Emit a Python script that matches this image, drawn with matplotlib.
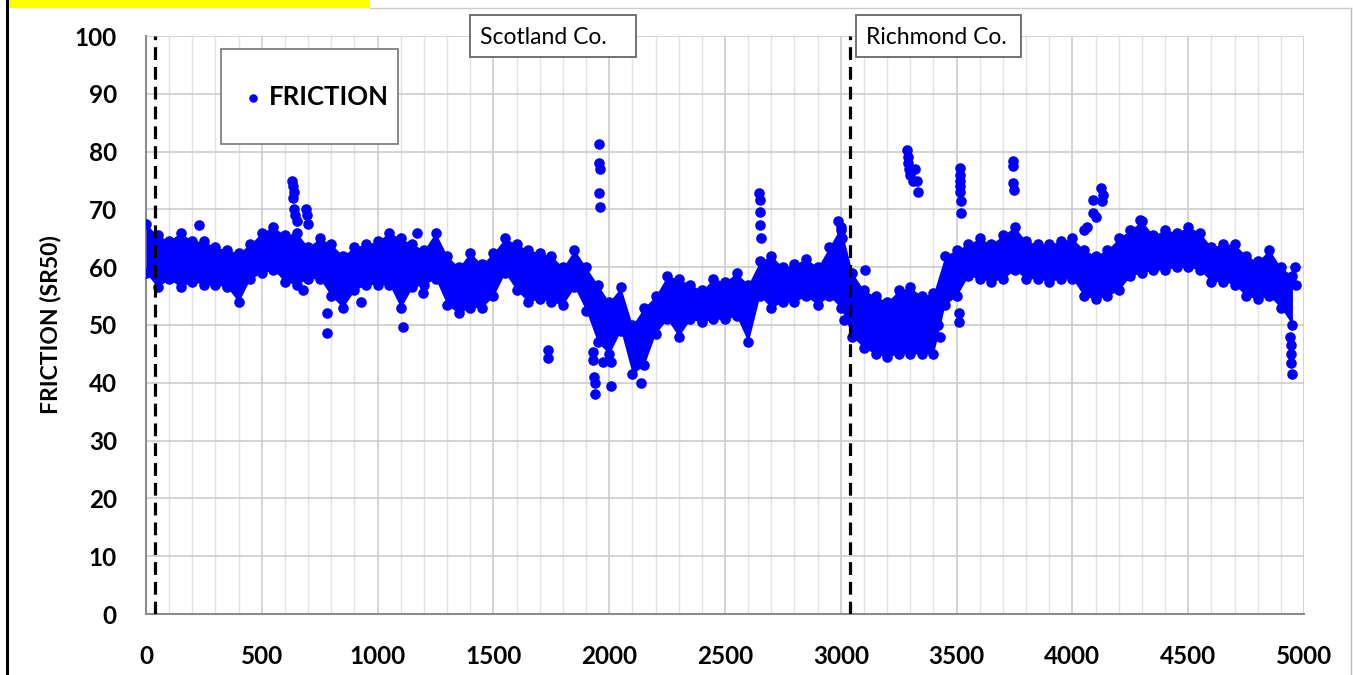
import matplotlib.pyplot as plt
from matplotlib.patches import Rectangle
from matplotlib.lines import Line2D

plt.rcParams['font.family'] = ['Lato', 'DejaVu Sans']

# station (ft) and the upper / lower edge of the dense friction band
stations = [0, 50, 100, 150, 200, 250, 300, 350, 400, 450,
            500, 550, 600, 650, 700, 750, 800, 850, 900, 950,
            1000, 1050, 1100, 1150, 1200, 1250, 1300, 1350, 1400, 1450,
            1500, 1550, 1600, 1650, 1700, 1750, 1800, 1850, 1900, 1950,
            2000, 2050, 2100, 2150, 2200, 2250, 2300, 2350, 2400, 2450,
            2500, 2550, 2600, 2650, 2700, 2750, 2800, 2850, 2900, 2950,
            3000, 3050, 3100, 3150, 3200, 3250, 3300, 3350, 3400, 3450,
            3500, 3550, 3600, 3650, 3700, 3750, 3800, 3850, 3900, 3950,
            4000, 4050, 4100, 4150, 4200, 4250, 4300, 4350, 4400, 4450,
            4500, 4550, 4600, 4650, 4700, 4750, 4800, 4850, 4900, 4950]
band_high = [67.5, 65.5, 64.6, 66, 64.5, 64.5, 63.5, 63, 62.5, 64,
             66, 67, 65.5, 66, 63.5, 65, 64, 62, 63.5, 64,
             64.5, 66, 65, 64, 63, 66, 62, 60, 62.5, 60.5,
             62.5, 65, 64, 63, 62.5, 62, 60, 63, 60, 57,
             54, 56.5, 50, 53, 55, 58.5, 58, 57, 56, 58,
             57.5, 59, 57, 61, 62, 60, 60.5, 61.5, 60, 63.5,
             67, 59, 56, 55, 54, 56, 56.5, 55, 55.5, 62,
             63, 64, 65, 64, 65.5, 67, 64.5, 64, 64, 64.5,
             65, 63, 62, 63, 65, 66.5, 68, 65.5, 66.5, 66,
             67, 66, 63.5, 64, 64, 62, 61, 63, 60, 58.5]
band_low = [59, 56.5, 58, 56.5, 57.5, 57, 57, 56.5, 54, 58,
            59, 59.5, 57.5, 57, 58, 58, 55, 53, 56, 57,
            57, 57, 53, 56.5, 57, 58, 53.5, 52, 53, 53,
            55, 59, 56, 54, 54.5, 54, 53.5, 56.5, 52.5, 47,
            45, 49, 41.5, 43, 48.5, 51, 48, 51, 50.5, 51,
            51, 51.5, 47, 55, 53, 54, 54, 55, 53.5, 55,
            53, 48, 46, 45, 44.5, 45, 45, 45, 45, 53.5,
            55, 58.5, 58, 57.5, 58, 59.5, 58, 58, 57.5, 58,
            58, 55, 54.5, 55, 56, 58.5, 59, 59.5, 59.5, 60,
            60, 59.5, 57.5, 57.5, 57, 55, 54.5, 55, 53, 50]

# readings standing apart from the band
out_x = [630, 635, 640, 635, 640, 645, 650, 690, 695, 700,
         680, 230, 780, 780, 930, 1110, 1170, 1195, 1737, 1737,
         1955, 1958, 1960, 1955, 1960, 1930, 1932, 1936, 1938, 1940,
         1975, 2006, 2008, 2137, 2647, 2650, 2650, 2652, 2655, 3015,
         3104, 3285, 3288, 3290, 3295, 3300, 3310, 3320, 3330, 3335,
         3513, 3513, 3515, 3515, 3515, 3517, 3518, 3510, 3512, 3743,
         3745, 3745, 3747, 4050, 4065, 4089, 4090, 4100, 4125, 4130,
         4128, 4290, 4940, 4942, 4944, 4946, 4948, 4960, 4965, 2990,
         3000, 3005, 2090, 2110, 2130, 3420, 3430]
out_y = [75, 74, 73, 72, 70, 69, 68, 70, 69, 67.5,
         56, 67.3, 52, 48.6, 54, 49.7, 66, 55.5, 45.7, 44.3,
         81.3, 78, 77, 72.8, 70.4, 45.3, 44, 41, 40, 38,
         43.6, 43.6, 39.4, 40, 72.8, 71.6, 69.6, 67.3, 65, 50.9,
         59.5, 80.3, 79, 78, 77, 76, 75, 77, 75, 73,
         77.1, 76, 75, 74, 73, 71.5, 69.4, 52, 50.6, 78.3,
         77.5, 74.5, 73.3, 66.4, 67, 71.6, 69.4, 68.6, 73.7, 72.5,
         71.4, 68.2, 48, 46.5, 45, 43.5, 41.5, 60, 57, 68,
         66.5, 65, 49, 48.5, 47, 50, 48]

county_lines = [40, 3040]
county_names = ['Scotland Co.', 'Richmond Co.']

W, H = 1353, 675
fig = plt.figure(figsize=(W / 100, H / 100), dpi=100)
ax = fig.add_axes([146 / W, 61 / H, 1158 / W, 578 / H])

blue = '#0000FF'
ms = 58
ax.fill_between(stations, band_low, band_high, color=blue, lw=0, zorder=3)
ax.scatter(stations, band_high, s=ms, color=blue, lw=0, zorder=3)
ax.scatter(stations, band_low, s=ms, color=blue, lw=0, zorder=3)
pts = ax.scatter(out_x, out_y, s=ms, color=blue, lw=0, zorder=3, label='FRICTION')

ax.vlines(county_lines, 0, 100, colors='black', linestyles=(0, (4, 2.2)), lw=2.3, zorder=4)

ax.set_xlim(0, 5000)
ax.set_ylim(0, 100)
ax.set_xticks(range(0, 5001, 500))
ax.set_xticks(range(0, 5001, 100), minor=True)
ax.set_yticks(range(0, 101, 10))
ax.grid(which='major', color='#cccccc', lw=1.2)
ax.grid(which='minor', axis='x', color='#e2e2e2', lw=1.0)
ax.tick_params(which='both', length=0)
ax.tick_params(axis='x', labelsize=17.5, pad=22)
ax.tick_params(axis='y', labelsize=17.5, pad=21)
for lab in ax.get_xticklabels() + ax.get_yticklabels():
    lab.set_fontweight('bold')
for s in ['top', 'right']:
    ax.spines[s].set_visible(False)
for s in ['left', 'bottom']:
    ax.spines[s].set_color('#8c8c8c')
    ax.spines[s].set_linewidth(1.5)

ax.set_ylabel('FRICTION (SR50)', fontsize=16.5, fontweight='bold')
ax.yaxis.set_label_coords(-0.073, 0.5)

# legend box
fig.patches.append(Rectangle((221 / W, 1 - 144 / H), 177 / W, 95 / H,
                             transform=fig.transFigure, facecolor='white',
                             edgecolor='#808080', lw=1.3, zorder=1))
fig.legend(handles=[pts], loc='center', bbox_to_anchor=(308 / W, 1 - 97 / H),
           frameon=False, prop={'weight': 'bold', 'size': 18.5},
           handletextpad=-0.41, markerscale=0.8)

# county labels
for name, x0, x1 in zip(county_names, [470, 856], [636, 1021]):
    fig.patches.append(Rectangle((x0 / W, 1 - 57 / H), (x1 - x0) / W, 42 / H,
                                 transform=fig.transFigure, facecolor='white',
                                 edgecolor='#666666', lw=1.3, zorder=1))
    fig.text((x0 + 10) / W, 1 - 37 / H, name, fontsize=16.5, va='center', ha='left')

# slide decorations: yellow strip and borders
fig.patches.append(Rectangle((8 / W, 1 - 8 / H), 362 / W, 8 / H,
                             transform=fig.transFigure, facecolor='#FFFF00',
                             edgecolor='none', zorder=1))
fig.lines.append(Line2D([6.5 / W, 6.5 / W], [0, 1], transform=fig.transFigure,
                        color='black', lw=2.2))
fig.lines.append(Line2D([1351 / W, 1351 / W], [0, 1 - 7.5 / H], transform=fig.transFigure,
                        color='#bbbbbb', lw=1.0))
fig.lines.append(Line2D([370 / W, 1351 / W], [1 - 7.5 / H, 1 - 7.5 / H],
                        transform=fig.transFigure, color='#cccccc', lw=1.0))

fig.savefig('out.png', dpi=100)
